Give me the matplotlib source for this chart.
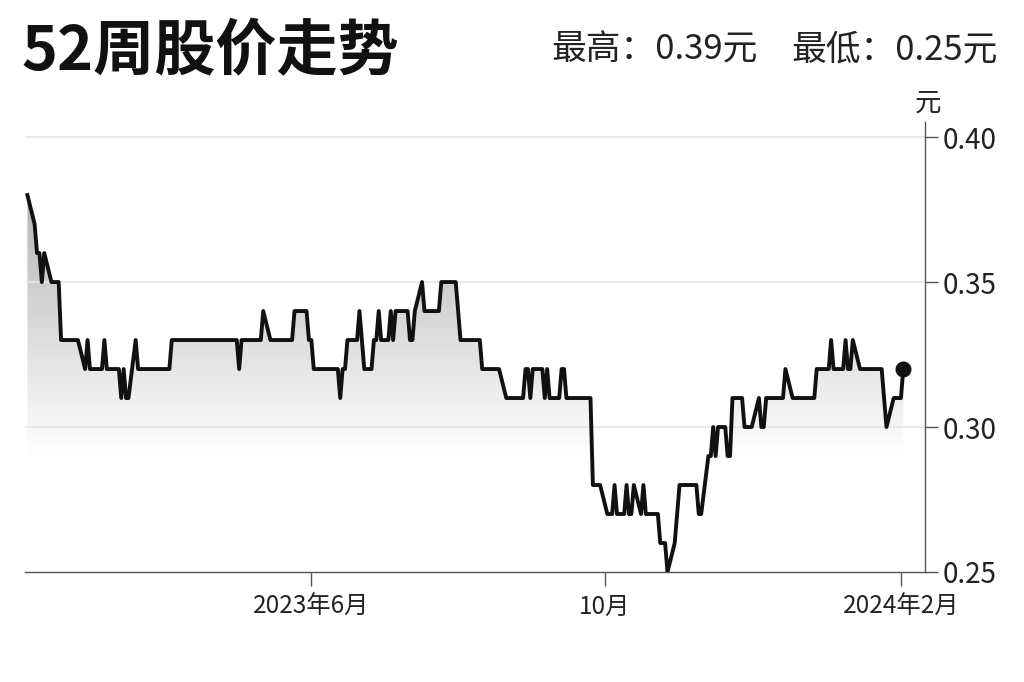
import matplotlib
matplotlib.use('Agg')
import matplotlib.pyplot as plt
import matplotlib.dates as mdates
import numpy as np
import pandas as pd

plt.rcParams['font.family'] = ['Noto Sans CJK SC', 'DejaVu Sans']

# closing price levels (元) and how many trading days each level held,
# read off the chart from left to right
levels = [0.38, 0.37, 0.36, 0.35, 0.36, 0.35, 0.33, 0.32, 0.33, 0.32,
          0.33, 0.32, 0.31, 0.32, 0.31, 0.33, 0.32, 0.33, 0.32, 0.33,
          0.34, 0.33, 0.34, 0.33, 0.32, 0.31, 0.32, 0.33, 0.34, 0.33,
          0.32, 0.33, 0.34, 0.33, 0.34, 0.33, 0.34, 0.33, 0.34, 0.35,
          0.34, 0.35, 0.34, 0.33, 0.32, 0.31, 0.32, 0.31, 0.32, 0.31,
          0.32, 0.31, 0.32, 0.31, 0.28, 0.27, 0.28, 0.27, 0.28, 0.27,
          0.28, 0.27, 0.28, 0.27, 0.26, 0.25, 0.26, 0.27, 0.28, 0.27,
          0.29, 0.30, 0.29, 0.30, 0.29, 0.31, 0.30, 0.31, 0.30, 0.31,
          0.32, 0.31, 0.32, 0.33, 0.32, 0.33, 0.32, 0.33, 0.32, 0.31,
          0.30, 0.31, 0.32]
run_days = [1, 1, 2, 1, 1, 4, 6, 1, 1, 4,
            1, 4, 1, 1, 2, 1, 10, 20, 1, 7,
            1, 8, 4, 2, 7, 1, 2, 3, 1, 1,
            2, 2, 1, 2, 1, 1, 4, 2, 1, 1,
            5, 5, 1, 7, 6, 6, 2, 1, 3, 1,
            1, 3, 2, 7, 4, 3, 1, 2, 1, 2,
            1, 1, 1, 4, 3, 1, 1, 1, 6, 2,
            2, 1, 1, 2, 2, 3, 4, 1, 2, 6,
            1, 8, 4, 1, 3, 1, 2, 1, 8, 1,
            1, 4, 1]

tick_dates = ['2023-06-01', '2023-10-01', '2024-02-01']
tick_labels = ['2023年6月', '10月', '2024年2月']
y_ticks = [0.25, 0.30, 0.35, 0.40]
grid_lines = [0.30, 0.35, 0.40]

title = '52周股价走势'
high_text = '最高：0.39元'
low_text = '最低：0.25元'
unit = '元'

dates = pd.bdate_range('2023-02-03', '2024-02-02')
price = np.repeat(levels, run_days)
dates = dates[:len(price)]
x = mdates.date2num(dates)

fig = plt.figure(figsize=(10.24, 6.82), dpi=100)
ax = fig.add_axes([0.0244, 0.1613, 0.8789, 0.6598])

x0 = mdates.date2num(pd.Timestamp('2023-02-02'))
x1 = mdates.date2num(pd.Timestamp('2024-02-11'))
ymin, ymax = 0.25, 0.4052

# grey gradient under the line, fading to white toward 0.29
yy = np.linspace(ymin, ymax, 400)
g = np.clip(1 - (yy - 0.29) / 0.09 * 0.29, 0.66, 1.0)
img = np.dstack([g, g, g]).reshape(-1, 1, 3)
poly = ax.fill_between(x, price, ymin, facecolor='none', edgecolor='none')
im = ax.imshow(img, extent=[x0, x1, ymin, ymax], origin='lower',
               aspect='auto', interpolation='bilinear', zorder=1)
im.set_clip_path(poly.get_paths()[0], ax.transData)

for gy in grid_lines:
    ax.axhline(gy, color='#e6e6e6', lw=1.2, zorder=2)

ax.plot(x, price, color='#111111', lw=2.8, zorder=3)
ax.plot(x[-1], price[-1], 'o', color='#111111', ms=10.5, zorder=4)

ax.set_xlim(x0, x1)
ax.set_ylim(ymin, ymax)

for s in ['top', 'left']:
    ax.spines[s].set_visible(False)
for s in ['right', 'bottom']:
    ax.spines[s].set_color('#555555')
    ax.spines[s].set_linewidth(1.0)

ax.yaxis.tick_right()
ax.set_yticks(y_ticks)
ax.set_yticklabels(['%.2f' % v for v in y_ticks])
ax.set_xticks(mdates.date2num(pd.to_datetime(tick_dates)))
ax.set_xticklabels(tick_labels)
ax.tick_params(axis='y', direction='out', length=9, width=1, color='#555555',
               pad=4, labelsize=20, labelcolor='#222222')
ax.tick_params(axis='x', direction='out', length=10, width=1, color='#555555',
               pad=6, labelsize=17.5, labelcolor='#222222')

fig.text(0.021, 0.923, title, fontsize=44, fontweight='bold',
         color='#111111', ha='left', va='center')
fig.text(0.974, 0.927, low_text, fontsize=25, color='#222222',
         ha='right', va='center')
fig.text(0.740, 0.927, high_text, fontsize=25, color='#222222',
         ha='right', va='center')
fig.text(0.906, 0.849, unit, fontsize=19, color='#222222',
         ha='center', va='center')

fig.savefig('out.png', dpi=100)
